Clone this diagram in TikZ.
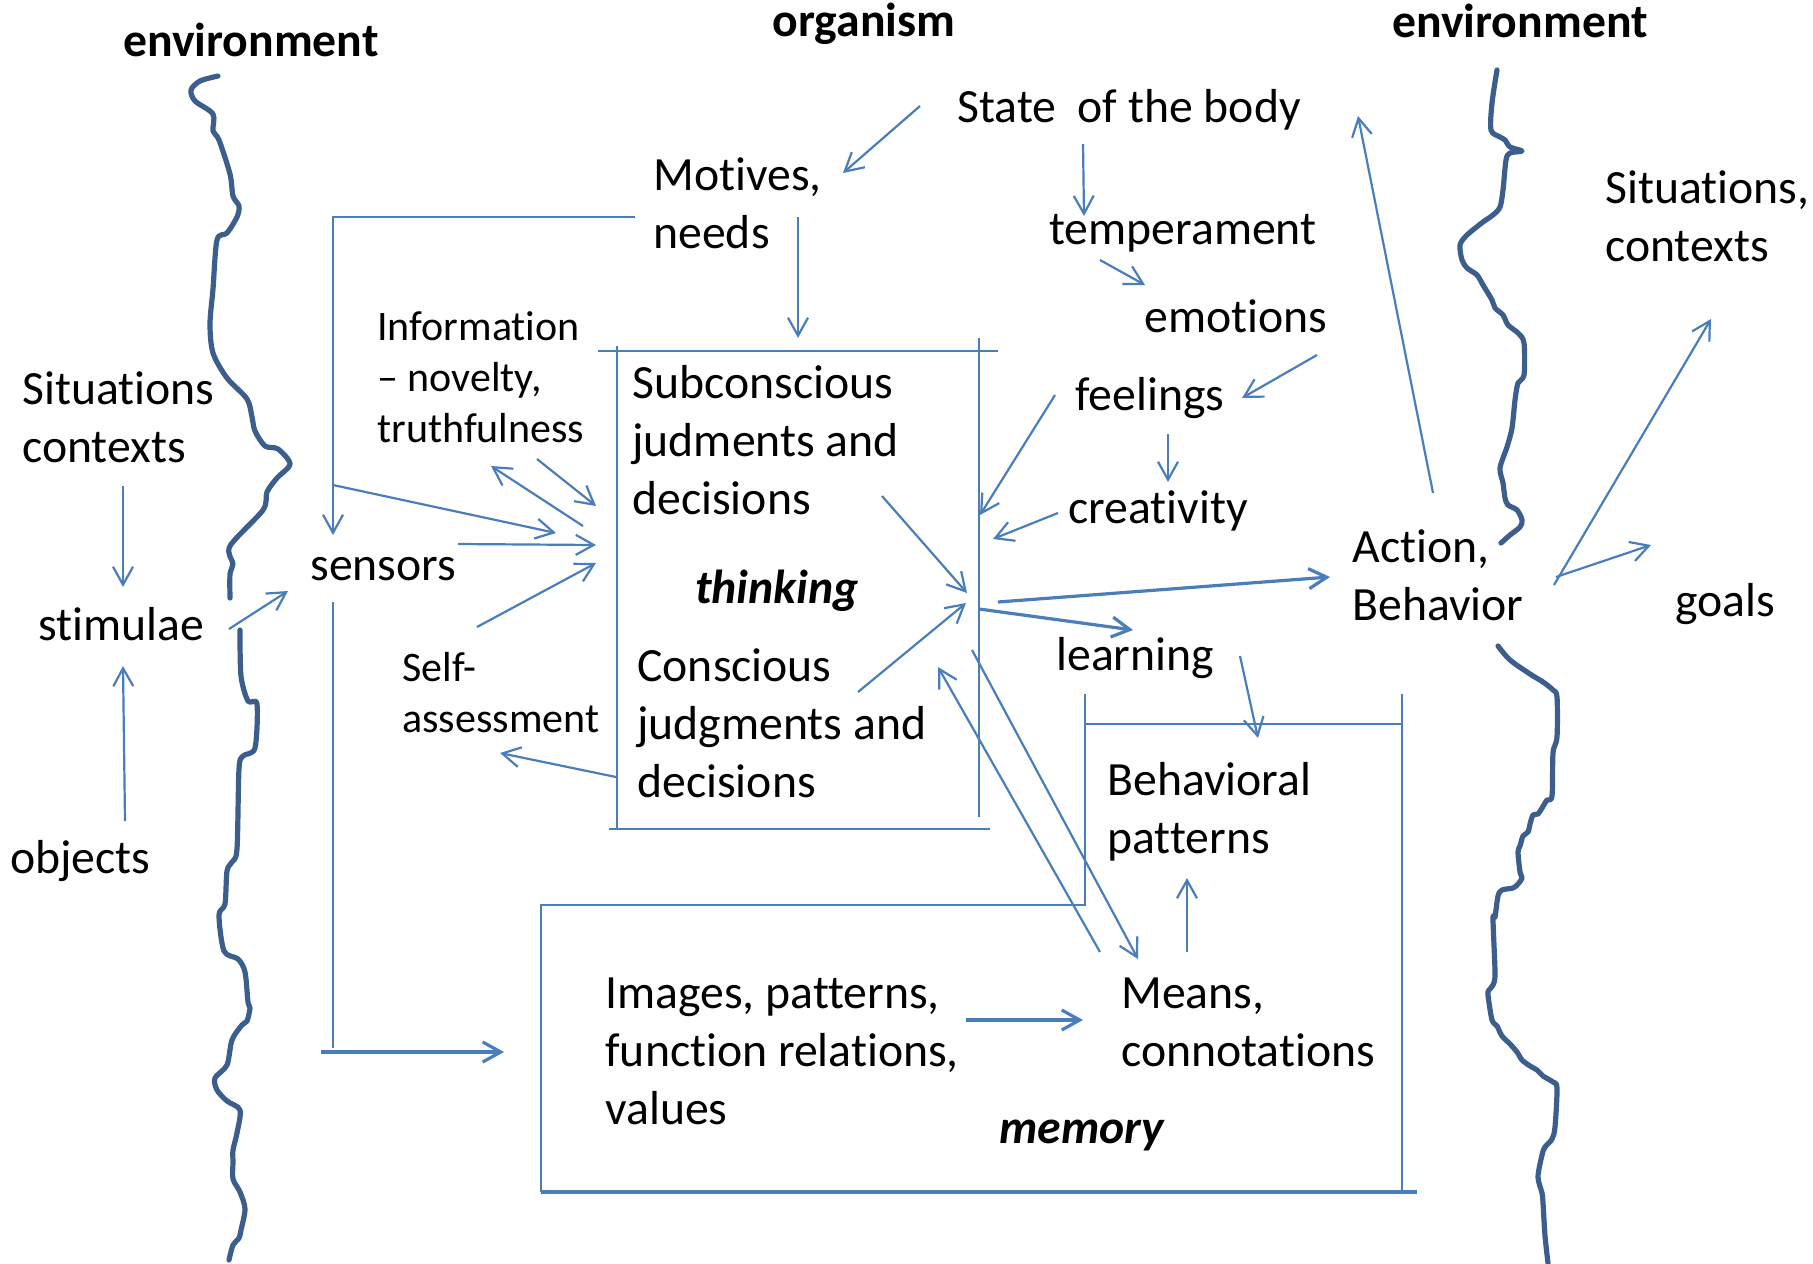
\documentclass[tikz,border=0pt]{standalone}
\usepackage{fontspec}
\setmainfont{Carlito}[Ligatures=NoCommon]
\usetikzlibrary{arrows.meta}
\definecolor{lnblue}{HTML}{4A7EBB}
\definecolor{wvblue}{HTML}{3B5E8C}
\begin{document}
\begin{tikzpicture}[x=0.5pt,y=-0.5pt,
  lbl/.style={inner sep=0pt,anchor=base west,align=left,font=\fontsize{23.85}{29}\selectfont},
  sml/.style={lbl,font=\fontsize{21}{25.5}\selectfont},
  ttl/.style={inner sep=0pt,anchor=base,font=\fontsize{23.85}{29}\selectfont\bfseries},
  ital/.style={inner sep=0pt,anchor=base,font=\fontsize{23.85}{29}\selectfont\bfseries\itshape},
  conn/.style={draw=lnblue,line width=1.1pt},
  thk/.style={line width=1.6pt},
  arr/.style={conn,-{Straight Barb[length=9pt,width=10pt]}},
  wavy/.style={draw=wvblue,line width=2.6pt,line join=round,line cap=round}]
\useasboundingbox (0,0) rectangle (1813,1263);

% ---------- texts (multi-line nodes placed at the baseline of their last line) ----------
\node[ttl] (envL) at (251,57) {environment};
\node[ttl] (org) at (864,37) {organism};
\node[ttl] (envR) at (1520,38) {environment};
\node[lbl] (state) at (957,122) {State\ \ of the body};
\node[lbl] (motives) at (653,248) {Motives,\\needs};
\node[lbl] (temper) at (1049,244) {temperament};
\node[lbl] (emot) at (1144,332) {emotions};
\node[lbl] (feel) at (1075,410) {feelings};
\node[lbl] (creat) at (1068,523) {creativity};
\node[lbl] (learn) at (1056,670) {learning};
\node[lbl] (action) at (1352,620) {Action,\\Behavior};
\node[lbl] (sitR) at (1605,261) {Situations,\\contexts};
\node[lbl] (goals) at (1675,616) {goals};
\node[sml] (info) at (377,442) {Information\\– novelty,\\truthfulness};
\node[lbl] (subc) at (632,514) {Subconscious\\judments and\\decisions};
\node[ital] (think) at (777,603) {thinking};
\node[lbl] (consc) at (637,797) {Conscious\\judgments and\\decisions};
\node[lbl] (sensors) at (310,580) {sensors};
\node[sml] (self) at (402,732) {Self-\\assessment};
\node[lbl] (sitL) at (22,462) {Situations\\contexts};
\node[lbl] (stim) at (38,640) {stimulae};
\node[lbl] (objects) at (10,873) {objects};
\node[lbl] (behav) at (1107,853) {Behavioral\\patterns};
\node[lbl] (images) at (605,1124) {Images, patterns,\\function relations,\\values};
\node[lbl] (means) at (1121,1066) {Means,\\connotations};
\node[ital] (memory) at (1082,1143) {memory};

% ---------- wavy environment borders ----------
\draw[wavy] plot[smooth,tension=0.5] coordinates {(218,76) (200,81) (191,90) (195,101) (213,114) (213,131) (219,140) (230,174) (233,196) (239,206) (237,217) (227,233) (217,240) (213,289) (210,324) (213,353) (227,378) (247,399) (252,417) (255,431) (265,446) (278,449) (290,464) (277,478) (267,492) (263,510) (230,546) (233,564) (230,574) (230,598)};
\draw[wavy] plot[smooth,tension=0.5] coordinates {(240,630) (241,676) (248,701) (257,704) (255,748) (243,756) (239,769) (237,849) (232,862) (227,871) (225,904) (219,915) (224,951) (238,959) (245,972) (248,1002) (250,1008) (247,1021) (242,1025) (232,1040) (227,1065) (215,1078) (217,1090) (227,1101) (240,1110) (237,1133) (233,1150) (233,1162) (233,1179) (240,1192) (245,1209) (241,1230) (239,1238) (233,1245) (229,1260)};
\draw[wavy] plot[smooth,tension=0.5] coordinates {(1497,70) (1492,103) (1491,130) (1500,137) (1505,140) (1510,147) (1522,151) (1510,153) (1506,160) (1503,190) (1500,207) (1493,215) (1483,222) (1467,235) (1460,245) (1462,260) (1467,268) (1477,275) (1483,285) (1492,300) (1495,308) (1503,315) (1508,325) (1518,333) (1524,343) (1524,375) (1518,383) (1515,400) (1512,428) (1507,447) (1500,468) (1503,483) (1505,498) (1508,505) (1517,510) (1522,520) (1520,527) (1510,535) (1501,543)};
\draw[wavy] plot[smooth,tension=0.5] coordinates {(1498,646) (1510,660) (1530,674) (1543,682) (1553,690) (1557,697) (1557,737) (1553,753) (1552,796) (1547,800) (1542,808) (1538,814) (1533,815) (1530,824) (1528,832) (1523,836) (1520,846) (1518,852) (1520,872) (1522,878) (1518,884) (1513,888) (1502,890) (1498,896) (1495,917) (1493,919) (1495,973) (1493,985) (1489,990) (1488,995) (1492,1020) (1497,1026) (1502,1036) (1510,1044) (1517,1052) (1522,1060) (1530,1066) (1537,1070) (1543,1076) (1553,1082) (1557,1088) (1555,1127) (1552,1139) (1545,1147) (1542,1155) (1538,1177) (1542,1193) (1543,1203) (1545,1236) (1548,1263)};

% ---------- boxes ----------
\coordinate (tbTL) at (598,351); \coordinate (tbTR) at (998,351);
\coordinate (tbL1) at (617,346); \coordinate (tbL2) at (617,829);
\coordinate (tbR1) at (979,338); \coordinate (tbR2) at (979,817);
\coordinate (tbBL) at (609,829); \coordinate (tbBR) at (990,829);
\draw[conn] (tbTL) -- (tbTR);
\draw[conn] (tbL1) -- (tbL2);
\draw[conn] (tbR1) -- (tbR2);
\draw[conn] (tbBL) -- (tbBR);

\coordinate (bpL1) at (1085,694); \coordinate (bpTL) at (1085,724);
\coordinate (bpTR) at (1403,724); \coordinate (bpR1) at (1402,694);
\coordinate (bpR2) at (1402,1192); \coordinate (mTR) at (1085,905);
\coordinate (mTL) at (541,905); \coordinate (mBL) at (541,1192);
\coordinate (mBR) at (1417,1192);
\draw[conn] (bpTL) -- (bpTR);
\draw[conn] (bpL1) -- (mTR) -- (mTL) -- (mBL);
\draw[conn] (bpR1) -- (bpR2);
\draw[conn,thk] (mBL) -- (mBR);

% ---------- connectors ----------
\coordinate (a1s) at (920,106); \coordinate (a1e) at (843,173);
\draw[arr] (a1s) -- (a1e);
\coordinate (a2s) at (1083,144); \coordinate (a2e) at (1084,216);
\draw[arr] (a2s) -- (a2e);
\coordinate (a3s) at (1100,260); \coordinate (a3e) at (1145,285);
\draw[arr] (a3s) -- (a3e);
\coordinate (a4s) at (1317,355); \coordinate (a4e) at (1242,398);
\draw[arr] (a4s) -- (a4e);
\coordinate (a5s) at (1168,434); \coordinate (a5e) at (1168,482);
\draw[arr] (a5s) -- (a5e);
\coordinate (a6s) at (1055,395); \coordinate (a6e) at (980,515);
\draw[arr] (a6s) -- (a6e);
\coordinate (a7s) at (1058,513); \coordinate (a7e) at (993,539);
\draw[arr] (a7s) -- (a7e);
\coordinate (a8s) at (798,217); \coordinate (a8e) at (798,338);
\draw[arr] (a8s) -- (a8e);
\coordinate (a9s) at (635,217); \coordinate (a9c) at (333,217); \coordinate (a9e) at (333,535);
\draw[arr] (a9s) -- (a9c) -- (a9e);
\coordinate (a10s) at (333,485); \coordinate (a10e) at (556,533);
\draw[arr] (a10s) -- (a10e);
\coordinate (a11s) at (458,544); \coordinate (a11e) at (596,545);
\draw[arr] (a11s) -- (a11e);
\coordinate (a12s) at (477,627); \coordinate (a12e) at (596,563);
\draw[arr] (a12s) -- (a12e);
\coordinate (a13s) at (583,526); \coordinate (a13e) at (491,466);
\draw[arr] (a13s) -- (a13e);
\coordinate (a14s) at (537,459); \coordinate (a14e) at (596,506);
\draw[arr] (a14s) -- (a14e);
\coordinate (a15s) at (616,777); \coordinate (a15e) at (500,753);
\draw[arr] (a15s) -- (a15e);
\coordinate (a16s) at (882,496); \coordinate (a16e) at (967,593);
\draw[arr] (a16s) -- (a16e);
\coordinate (a17s) at (858,692); \coordinate (a17e) at (966,603);
\draw[arr] (a17s) -- (a17e);
\coordinate (a18s) at (998,602); \coordinate (a18e) at (1330,577);
\draw[arr,thk] (a18s) -- (a18e);
\coordinate (a19s) at (979,609); \coordinate (a19e) at (1133,630);
\draw[arr,thk] (a19s) -- (a19e);
\coordinate (a20s) at (1240,656); \coordinate (a20e) at (1258,738);
\draw[arr] (a20s) -- (a20e);
\coordinate (a21s) at (1433,493); \coordinate (a21e) at (1358,116);
\draw[arr] (a21s) -- (a21e);
\coordinate (a22s) at (1554,585); \coordinate (a22e) at (1711,319);
\draw[arr] (a22s) -- (a22e);
\coordinate (a23s) at (1556,577); \coordinate (a23e) at (1651,545);
\draw[arr] (a23s) -- (a23e);
\coordinate (a24s) at (1100,952); \coordinate (a24e) at (938,667);
\draw[arr] (a24s) -- (a24e);
\coordinate (a25s) at (972,650); \coordinate (a25e) at (1138,959);
\draw[arr] (a25s) -- (a25e);
\coordinate (a26s) at (1187,952); \coordinate (a26e) at (1187,878);
\draw[arr] (a26s) -- (a26e);
\coordinate (a27s) at (966,1020); \coordinate (a27e) at (1083,1020);
\draw[arr,thk] (a27s) -- (a27e);
\coordinate (a28s) at (333,602); \coordinate (a28e) at (333,1048);
\draw[conn] (a28s) -- (a28e);
\coordinate (a29s) at (321,1052); \coordinate (a29e) at (504,1052);
\draw[arr,thk] (a29s) -- (a29e);
\coordinate (a30s) at (229,629); \coordinate (a30e) at (288,591);
\draw[arr] (a30s) -- (a30e);
\coordinate (a31s) at (123,486); \coordinate (a31e) at (123,587);
\draw[arr] (a31s) -- (a31e);
\coordinate (a32s) at (125,821); \coordinate (a32e) at (123,666);
\draw[arr] (a32s) -- (a32e);
\end{tikzpicture}
\end{document}
